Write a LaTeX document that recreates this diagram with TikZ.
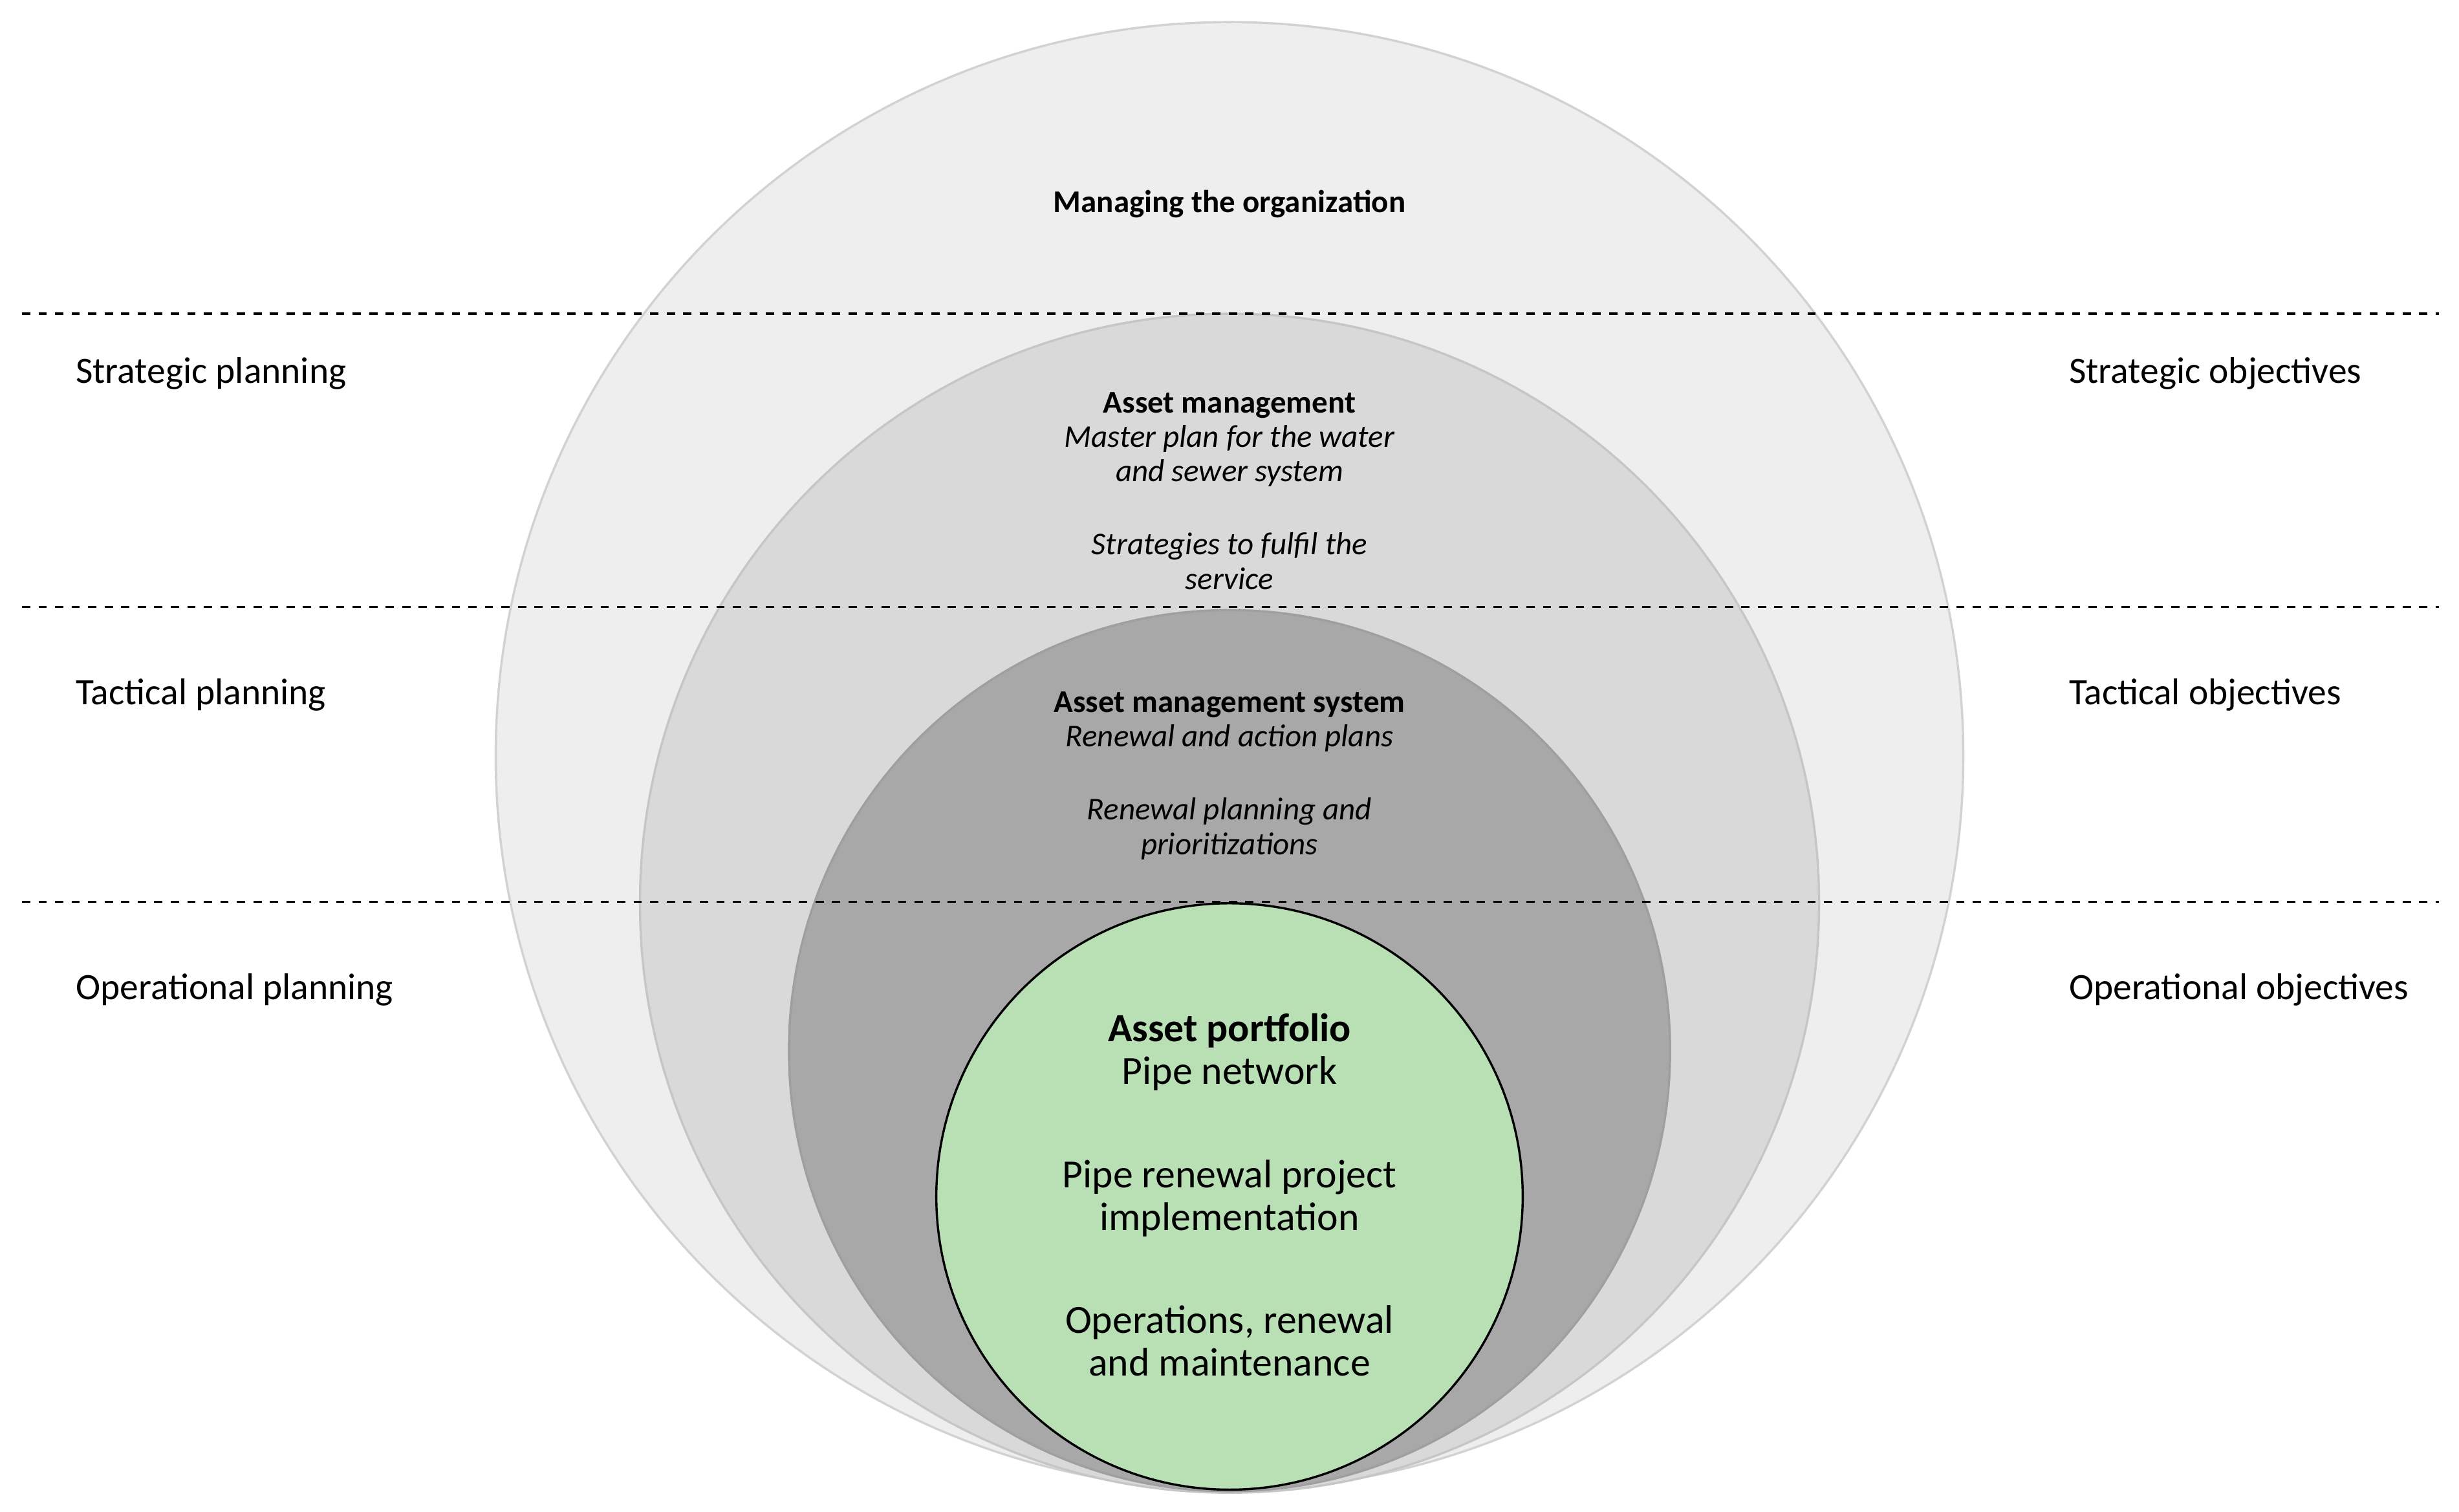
\documentclass[tikz,border=0pt]{standalone}
\usepackage{fontspec}
\setmainfont{Carlito}
\tikzset{
  ring/.style={circle, inner sep=0pt, line width=0.8pt},
  side/.style={anchor=west, inner sep=0pt, font=\fontsize{13.5}{16}\selectfont},
  head/.style={align=center, font=\fontsize{11.5}{12.5}\selectfont},
  level/.style={dashed, line width=0.8pt},
}
\begin{document}
\begin{tikzpicture}[x=0.02cm, y=-0.02cm]
\useasboundingbox (0,0) rectangle (1568,964);
% nested rings, all touching at the bottom
\node[ring, draw=gray!35, fill=gray!13, minimum size=18.72cm] (org) at (784,482) {};
\node[ring, draw=gray!45, fill=gray!30, minimum size=15.04cm] (am) at (784,576) {};
\node[ring, draw=gray!75, fill=gray!68, minimum size=11.24cm] (ams) at (784,670) {};
\node[ring, draw=black, fill={rgb,255:red,184;green,224;blue,180}, minimum size=7.48cm] (port) at (784,763) {};
% planning levels
\foreach \y/\n in {200/a, 387/b, 575/c}{
  \coordinate (l\n) at (14,\y);
  \coordinate (r\n) at (1555,\y);
  \draw[level] (l\n) -- (r\n);
}
\node[side] (sp) at (48,238) {Strategic planning};
\node[side] (tp) at (48,443) {Tactical planning};
\node[side] (op) at (48,631) {Operational planning};
\node[side] (so) at (1319,238) {Strategic objectives};
\node[side] (to) at (1319,443) {Tactical objectives};
\node[side] (oo) at (1319,631) {Operational objectives};
% ring texts
\node[head] (torg) at (784,130) {\textbf{Managing the organization}};
\node[head, anchor=north] (tam) at (784,244) {\textbf{Asset management}\\
  \textit{Master plan for the water}\\ \textit{and sewer system}\\[14pt]
  \textit{Strategies to fulfil the}\\ \textit{service}};
\node[head, anchor=north] (tams) at (784,435) {\textbf{Asset management system}\\
  \textit{Renewal and action plans}\\[14pt]
  \textit{Renewal planning and}\\ \textit{prioritizations}};
\node[align=center, anchor=north, font=\fontsize{14.5}{15.5}\selectfont] (tport) at (784,640)
  {\textbf{Asset portfolio}\\ Pipe network\\[22pt]
   Pipe renewal project\\ implementation\\[22pt]
   Operations, renewal\\ and maintenance};
\end{tikzpicture}
\end{document}
